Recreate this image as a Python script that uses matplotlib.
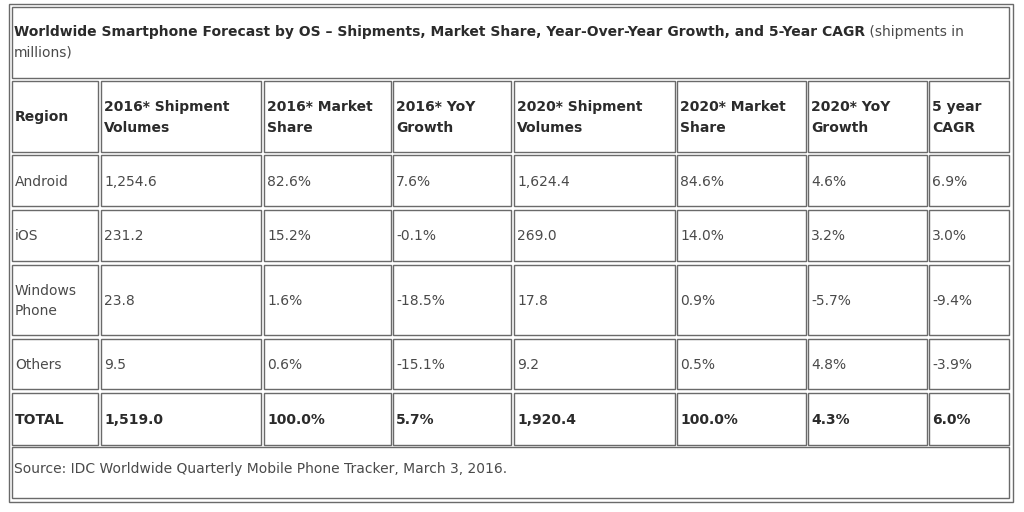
import matplotlib as mpl
mpl.use('Agg')
import matplotlib.pyplot as plt
from matplotlib.patches import Rectangle

# table content
title_bold = 'Worldwide Smartphone Forecast by OS \u2013 Shipments, Market Share, Year-Over-Year Growth, and 5-Year CAGR'
title_rest = ' (shipments in\nmillions)'
headers = ['Region', '2016* Shipment\nVolumes', '2016* Market\nShare', '2016* YoY\nGrowth',
           '2020* Shipment\nVolumes', '2020* Market\nShare', '2020* YoY\nGrowth', '5 year\nCAGR']
regions = ['Android', 'iOS', 'Windows\nPhone', 'Others']
ship_2016 = ['1,254.6', '231.2', '23.8', '9.5']
share_2016 = ['82.6%', '15.2%', '1.6%', '0.6%']
yoy_2016 = ['7.6%', '-0.1%', '-18.5%', '-15.1%']
ship_2020 = ['1,624.4', '269.0', '17.8', '9.2']
share_2020 = ['84.6%', '14.0%', '0.9%', '0.5%']
yoy_2020 = ['4.6%', '3.2%', '-5.7%', '4.8%']
cagr = ['6.9%', '3.0%', '-9.4%', '-3.9%']
total_row = ['TOTAL', '1,519.0', '100.0%', '5.7%', '1,920.4', '100.0%', '4.3%', '6.0%']
source = 'Source: IDC Worldwide Quarterly Mobile Phone Tracker, March 3, 2016.'

# layout in pixels (cell left/right, row top/bottom)
col_l = [12, 101, 264, 393, 514, 677, 808, 929]
col_r = [98, 261, 391, 511, 675, 806, 927, 1009]
row_t = [81, 155, 210, 265, 339, 393]
row_b = [152, 206, 261, 335, 389, 445]
edge = '#6a6a6a'
txt = '#4a4a4a'
bold_c = '#2b2b2b'
fs = 10.0

fig = plt.figure(figsize=(10.24, 5.12), dpi=100)
fig.patch.set_facecolor('white')
ax = fig.add_axes([0, 0, 1, 1])
ax.set_xlim(0, 1024)
ax.set_ylim(512, 0)
ax.set_axis_off()

def box(x0, y0, x1, y1):
    ax.add_patch(Rectangle((x0, y0), x1 - x0, y1 - y0, fill=False,
                           edgecolor=edge, linewidth=1.0))

# outer table border
box(9, 4, 1013, 502)
# title cell
box(12, 7, 1009, 78)
# source cell
box(12, 447, 1009, 498)

rows = [headers]
for i in range(len(regions)):
    rows.append([regions[i], ship_2016[i], share_2016[i], yoy_2016[i],
                 ship_2020[i], share_2020[i], yoy_2020[i], cagr[i]])
rows.append(total_row)

for r, vals in enumerate(rows):
    bold = r == 0 or r == len(rows) - 1
    for c, v in enumerate(vals):
        box(col_l[c], row_t[r], col_r[c], row_b[r])
        ax.text(col_l[c] + 3, (row_t[r] + row_b[r]) / 2 + 1, v,
                fontsize=fs, family='DejaVu Sans',
                fontweight='bold' if bold else 'normal',
                color=bold_c if bold else txt,
                va='center', ha='left', linespacing=1.6)

# title: bold part then normal part
t = ax.text(14, 32, title_bold, fontsize=fs, fontweight='bold', color=bold_c,
            va='center', ha='left')
fig.canvas.draw()
bb = t.get_window_extent().transformed(ax.transData.inverted())
ax.text(bb.x1, 32, title_rest.split('\n')[0], fontsize=fs, color=txt,
        va='center', ha='left')
ax.text(14, 52, title_rest.split('\n')[1], fontsize=fs, color=txt,
        va='center', ha='left')

ax.text(14, 469, source, fontsize=fs, color=txt, va='center', ha='left')

fig.savefig('out.png', dpi=100)
